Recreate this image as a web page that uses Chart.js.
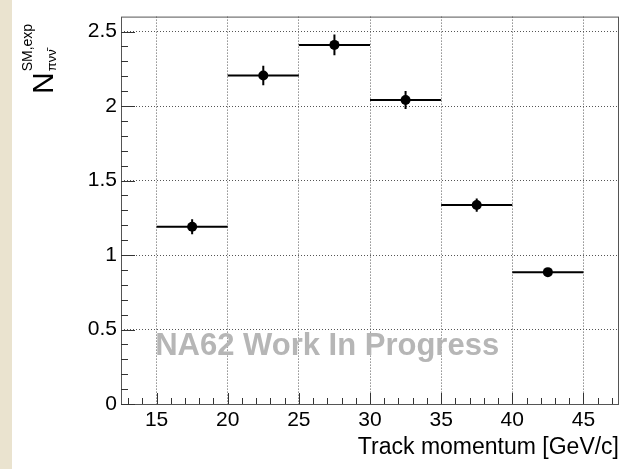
<!DOCTYPE html>
<html>
<head>
<meta charset="utf-8">
<script src="https://cdn.jsdelivr.net/npm/chart.js@4/dist/chart.umd.min.js"></script>
<style>
  html, body { margin: 0; padding: 0; background: #fff; }
  #wrap { position: relative; width: 624px; height: 469px; }
</style>
</head>
<body>
<div id="wrap"><canvas id="c"></canvas></div>
<script>
/* ── data (bins in GeV/c, expected SM events) ── */
const binLo    = [15, 20, 25, 30, 35, 40];
const binHi    = [20, 25, 30, 35, 40, 45];
const nExp     = [1.19, 2.205, 2.41, 2.04, 1.335, 0.885];
const nErr     = [0.05, 0.065, 0.07, 0.06, 0.045, 0.02];
const xTicks   = [15, 20, 25, 30, 35, 40, 45];
const yTicks   = [0, 0.5, 1, 1.5, 2, 2.5];
const xRange   = [12.5, 47.5];
const yRange   = [0, 2.6];
const watermark = { text: 'NA62 Work In Progress', x: 14.9, y: 0.33 };

const FONT = "'Liberation Sans', Arial, Helvetica, sans-serif";

// ROOT-style frame, inward ticks, error bars, watermark, y title
const rootStyle = {
  id: 'rootStyle',
  beforeDraw(chart) {
    const { ctx, width, height } = chart;
    ctx.save();
    ctx.fillStyle = '#fff';
    ctx.fillRect(0, 0, width, height);
    ctx.fillStyle = '#eae3cf';
    ctx.fillRect(0, 0, 12, height);
    ctx.restore();
  },
  beforeDatasetsDraw(chart) {
    const { ctx, scales } = chart;
    ctx.save();
    ctx.font = 'bold 31px ' + FONT;
    ctx.fillStyle = '#b6b6b6';
    ctx.textBaseline = 'alphabetic';
    ctx.fillText(watermark.text, scales.x.getPixelForValue(watermark.x), scales.y.getPixelForValue(watermark.y));
    ctx.restore();
  },
  afterDatasetsDraw(chart) {
    const { ctx, scales } = chart;
    const { x, y } = scales;
    ctx.save();
    ctx.strokeStyle = '#000';
    ctx.lineWidth = 2;
    binLo.forEach((lo, i) => {
      const yc = y.getPixelForValue(nExp[i]);
      const xc = x.getPixelForValue((lo + binHi[i]) / 2);
      ctx.beginPath();
      ctx.moveTo(x.getPixelForValue(lo), yc);
      ctx.lineTo(x.getPixelForValue(binHi[i]), yc);
      ctx.moveTo(xc, y.getPixelForValue(nExp[i] - nErr[i]));
      ctx.lineTo(xc, y.getPixelForValue(nExp[i] + nErr[i]));
      ctx.stroke();
    });
    ctx.restore();
  },
  afterDraw(chart) {
    const { ctx, scales, chartArea: a } = chart;
    const { x, y } = scales;
    ctx.save();
    // frame
    ctx.strokeStyle = '#555';
    ctx.lineWidth = 1;
    ctx.strokeRect(a.left + 0.5, a.top + 0.5, a.right - a.left - 1, a.bottom - a.top);
    // ticks
    ctx.strokeStyle = '#333';
    ctx.beginPath();
    for (let v = 13; v <= 47; v++) {
      const px = Math.round(x.getPixelForValue(v)) + 0.5;
      const len = v % 5 === 0 ? 11 : 6;
      ctx.moveTo(px, a.bottom); ctx.lineTo(px, a.bottom - len);
    }
    for (let k = 0; k <= 25; k++) {
      const py = Math.round(y.getPixelForValue(k / 10)) + 0.5;
      const len = k % 5 === 0 ? 14 : 7;
      ctx.moveTo(a.left, py); ctx.lineTo(a.left + len, py);
    }
    ctx.stroke();
    // y title: N^{SM,exp}_{πνν̄}
    ctx.fillStyle = '#000';
    ctx.translate(53, 94);
    ctx.rotate(-Math.PI / 2);
    ctx.textBaseline = 'alphabetic';
    ctx.font = '30px ' + FONT;
    ctx.fillText('N', 0, 0);
    const nw = ctx.measureText('N').width;
    ctx.font = '14px ' + FONT;
    ctx.fillText('SM,exp', nw + 1, -21);
    ctx.font = '13px ' + FONT;
    ctx.fillText('\u03c0\u03bd\u03bd\u0304', nw + 1, 3);
    ctx.restore();
  }
};

new Chart(document.getElementById('c').getContext('2d'), {
  type: 'scatter',
  data: {
    datasets: [{
      data: binLo.map((lo, i) => ({ x: (lo + binHi[i]) / 2, y: nExp[i] })),
      pointRadius: 5, pointHoverRadius: 5,
      backgroundColor: '#000', borderColor: '#000', borderWidth: 0,
    }],
  },
  options: {
    responsive: true, maintainAspectRatio: false, animation: false,
    devicePixelRatio: 1,
    layout: { padding: { left: 0, top: 14, right: 4, bottom: 0 } },
    plugins: { legend: { display: false }, tooltip: { enabled: false } },
    scales: {
      x: {
        type: 'linear', min: xRange[0], max: xRange[1],
        afterBuildTicks: s => { s.ticks = xTicks.map(v => ({ value: v })); },
        afterFit: s => { s.height = 65; },
        grid: { color: '#555', lineWidth: 1, drawTicks: false },
        border: { display: false, dash: [1, 2] },
        ticks: { color: '#000', padding: 4, font: { family: FONT, size: 21 }, maxRotation: 0,
                 callback: v => String(v) },
        title: {
          display: true, text: 'Track momentum [GeV/c]', align: 'end', color: '#000',
          font: { family: FONT, size: 23 }, padding: { top: 0, bottom: 8 },
        },
      },
      y: {
        type: 'linear', min: yRange[0], max: yRange[1],
        afterBuildTicks: s => { s.ticks = yTicks.map(v => ({ value: v })); },
        afterFit: s => { s.width = 121; },
        grid: { color: '#555', lineWidth: 1, drawTicks: false },
        border: { display: false, dash: [1, 2] },
        ticks: { color: '#000', padding: 4, font: { family: FONT, size: 21 },
                 callback: v => String(v) },
      },
    },
  },
  plugins: [rootStyle],
});
</script>
</body>
</html>
